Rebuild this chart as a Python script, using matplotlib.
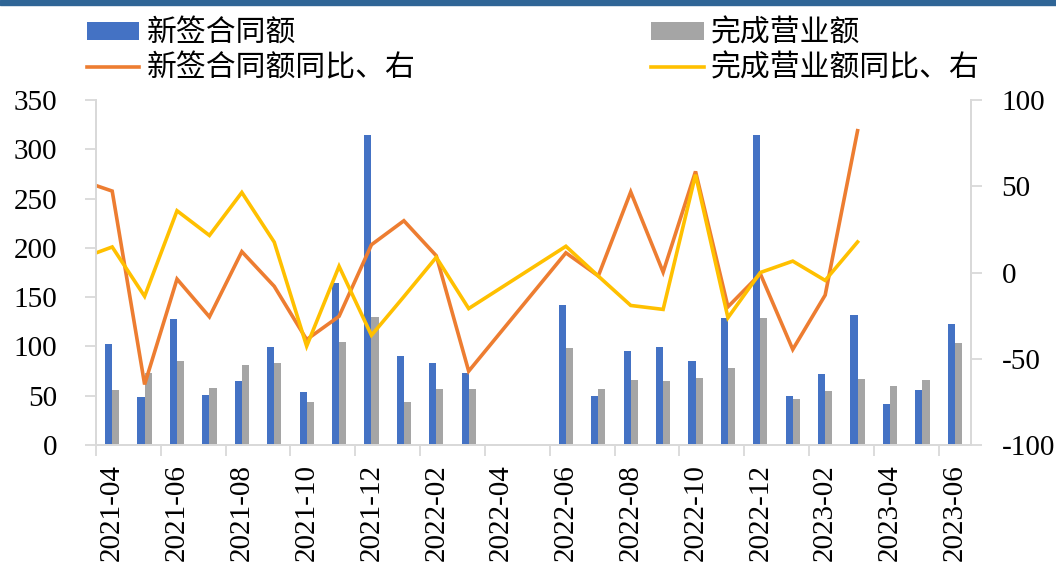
import matplotlib.pyplot as plt
import matplotlib.patches as mpatches
import numpy as np

plt.rcParams['font.family'] = ['Liberation Serif', 'Noto Sans CJK SC']
plt.rcParams['axes.unicode_minus'] = False

# 数据 ----------------------------------------#
months = ['2021-03', '2021-04', '2021-05', '2021-06', '2021-07', '2021-08', '2021-09',
          '2021-10', '2021-11', '2021-12', '2022-01', '2022-02', '2022-03', '2022-04',
          '2022-05', '2022-06', '2022-07', '2022-08', '2022-09', '2022-10', '2022-11',
          '2022-12', '2023-01', '2023-02', '2023-03', '2023-04', '2023-05', '2023-06']
nan = np.nan
new_contract = [nan, 102, 49, 128, 51, 65, 99, 54, 164, 314, 90, 83, 73, nan,
                nan, 142, 50, 95, 99, 85, 129, 314, 50, 72, 132, 42, 56, 123]
completed = [nan, 56, 73, 85, 58, 81, 83, 44, 104, 130, 44, 57, 57, nan,
             nan, 98, 57, 66, 65, 68, 78, 129, 47, 55, 67, 60, 66, 103]
new_contract_yoy = [53.6, 47.2, -64.9, -3.8, -25.7, 12.1, -8.0, -38.9, -25.4, 16.1, 30.0, 9.7, -57.2, nan,
                    nan, 11.4, -2.0, 46.7, 0.2, 58.6, -19.9, -0.8, -44.6, -13.1, 82.2, nan, nan, nan]
completed_yoy = [7.9, 14.8, -13.8, 35.8, 21.5, 46.4, 17.6, -42.7, 3.6, -36.4, -14.0, 8.8, -20.9, nan,
                 nan, 15.2, -2.1, -19.1, -21.4, 56.7, -26.2, 0.0, 6.6, -4.6, 17.7, nan, nan, nan]

c_blue, c_gray, c_orange, c_yellow = '#4472C4', '#A5A5A5', '#ED7D31', '#FFC000'
c_axis = '#D9D9D9'
fs = 21

x = np.arange(len(months))
w = 0.22

fig = plt.figure(figsize=(10.56, 5.65), dpi=100)
# 顶部深蓝色条
fig.patches.append(mpatches.Rectangle((0, 1 - 5 / 565), 1, 5 / 565, transform=fig.transFigure,
                                      color='#2F6596', zorder=0))
ax = fig.add_axes([96 / 1056, 1 - 445 / 565, (971 - 96) / 1056, (445 - 100) / 565])
ax2 = ax.twinx()

b1 = ax.bar(x - w / 2, new_contract, w, color=c_blue, label='新签合同额')
b2 = ax.bar(x + w / 2, completed, w, color=c_gray, label='完成营业额')

def plot_line(axis, y, color, label):
    y = np.array(y, dtype=float)
    m = ~np.isnan(y)
    return axis.plot(x[m], y[m], color=color, lw=2.6, label=label, solid_joinstyle='miter')[0]

l1 = plot_line(ax2, new_contract_yoy, c_orange, '新签合同额同比、右')
l2 = plot_line(ax2, completed_yoy, c_yellow, '完成营业额同比、右')

ax.set_xlim(0.5, len(months) - 0.5)
ax.set_ylim(0, 350)
ax.set_yticks(np.arange(0, 351, 50))
ax2.set_ylim(-100, 100)
ax2.set_yticks(np.arange(-100, 101, 50))

# x轴: 刻度线在类别边界, 标签在类别中心
ax.set_xticks(x[1::2] - 0.5)
ax.set_xticklabels([])
ax.set_xticks(x[1::2], minor=True)
ax.set_xticklabels(months[1::2], minor=True, rotation=90, fontsize=fs)
ax.tick_params(axis='x', which='major', length=8, width=1.3, color=c_axis)
ax.tick_params(axis='x', which='minor', length=0, pad=14)
ax.tick_params(axis='y', length=8, width=1.3, color=c_axis, labelsize=fs, pad=20)
ax2.tick_params(axis='y', length=8, width=1.3, color=c_axis, labelsize=fs, pad=14)

for a in (ax, ax2):
    a.spines['top'].set_visible(False)
    for s in ('left', 'right', 'bottom'):
        a.spines[s].set_color(c_axis)
        a.spines[s].set_linewidth(1.3)

fig.legend([b1, l1, b2, l2], [b1.get_label(), l1.get_label(), b2.get_label(), l2.get_label()],
           prop={'size': 21.5}, ncol=2, loc='upper left', bbox_to_anchor=(75 / 1056, 1 - 7 / 565),
           frameon=False, handlelength=1.75, handleheight=0.55,
           handletextpad=0.25, columnspacing=7.9, labelspacing=0.25, borderaxespad=0)

fig.savefig('out.png', dpi=100)
